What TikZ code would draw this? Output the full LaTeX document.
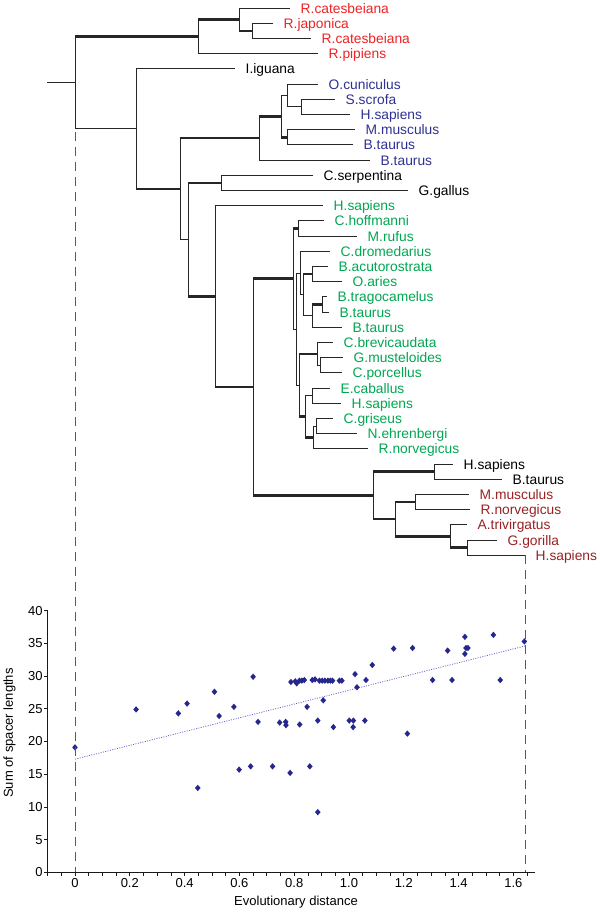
\documentclass[tikz,border=0pt]{standalone}
\usepackage{fontspec}
\setmainfont{Liberation Sans}
\usetikzlibrary{positioning}

\definecolor{frogred}{RGB}{237,34,36}
\definecolor{mamblue}{RGB}{46,49,146}
\definecolor{grngreen}{RGB}{0,166,81}
\definecolor{brnred}{RGB}{153,33,36}
\definecolor{ptblue}{RGB}{38,38,140}
\definecolor{trendblue}{RGB}{100,100,205}

\begin{document}
\begin{tikzpicture}[
  x=1pt, y=-1pt,
  font=\fontsize{13.8}{16}\selectfont,
  br/.style={draw=black!85, line width=0.9pt},
  thk/.style={draw=black!85, line width=2.6pt},
  lab/.style={text=#1, inner sep=0pt, text height=10pt, text depth=0pt},
  lab/.default=black,
  guide/.style={draw=black!65, line width=0.9pt, dash pattern=on 9pt off 6pt},
  axis/.style={draw=black!90, line width=0.8pt},
  ticklab/.style={font=\fontsize{13}{15}\selectfont, inner sep=1pt},
  axlab/.style={font=\fontsize{13}{15}\selectfont, inner sep=0pt},
  pt/.style={fill=ptblue},
  trend/.style={draw=trendblue, line width=0.8pt, dash pattern=on 1pt off 1.4pt},
]
\useasboundingbox (0,0) rectangle (600,914);

% ---------- Leaves ----------
\foreach \i/\x/\name/\col in {
   1/290/R.catesbeiana/frogred,  2/273/R.japonica/frogred,
   3/311/R.catesbeiana/frogred,  4/318/R.pipiens/frogred,
   5/235/I.iguana/black,
   6/318/O.cuniculus/mamblue,    7/335/S.scrofa/mamblue,
   8/350/H.sapiens/mamblue,      9/355/M.musculus/mamblue,
  10/353/B.taurus/mamblue,      11/370/B.taurus/mamblue,
  12/313/C.serpentina/black,    13/408/G.gallus/black,
  14/323/H.sapiens/grngreen,    15/324/C.hoffmanni/grngreen,
  16/357/M.rufus/grngreen,      17/330/C.dromedarius/grngreen,
  18/328/B.acutorostrata/grngreen, 19/342/O.aries/grngreen,
  20/327/B.tragocamelus/grngreen,  21/329/B.taurus/grngreen,
  22/342/B.taurus/grngreen,     23/333/C.brevicaudata/grngreen,
  24/343/G.musteloides/grngreen, 25/342/C.porcellus/grngreen,
  26/330/E.caballus/grngreen,   27/341/H.sapiens/grngreen,
  28/333/C.griseus/grngreen,    29/357/N.ehrenbergi/grngreen,
  30/368/R.norvegicus/grngreen,
  31/453/H.sapiens/black,       32/502/B.taurus/black,
  33/469/M.musculus/brnred,     34/470/R.norvegicus/brnred,
  35/467/A.trivirgatus/brnred,  36/497/G.gorilla/brnred,
  37/525/H.sapiens/brnred}{
  \coordinate (t\i) at (\x,{8+15.2*(\i-1)});
  \node[lab=\col, right=10.5pt of t\i] (l\i) {\name};
}

% ---------- Internal nodes ----------
\coordinate (stub)  at (47,82.65);
\coordinate (root)  at (75,82.65);
\coordinate (frog)  at (198,36.5);
\coordinate (frogA) at (239,19.4);
\coordinate (frogB) at (252,30.8);
\coordinate (amn)   at (136,128.8);
\coordinate (amnA)  at (180,188.85);
\coordinate (mam)   at (259,138.15);
\coordinate (mamA)  at (281,116.3);
\coordinate (mamB)  at (287,95.4);
\coordinate (mamC)  at (301,106.8);
\coordinate (mamD)  at (287,137.2);
\coordinate (sau)   at (188,239.55);
\coordinate (rept)  at (221,182.8);
\coordinate (ctn)   at (215,296.3);
\coordinate (ctnA)  at (253,387.05);
\coordinate (grn)   at (293,278.75);
\coordinate (grnA)  at (298,228.4);
\coordinate (grnB)  at (296,329.1);
\coordinate (grnC)  at (300,273.05);
\coordinate (grnD)  at (303,294.9);
\coordinate (grnE)  at (312,274);
\coordinate (grnF)  at (312,315.8);
\coordinate (grnG)  at (322,304.4);
\coordinate (grnH)  at (299,385.15);
\coordinate (grnI)  at (317,353.8);
\coordinate (grnJ)  at (320,365.2);
\coordinate (grnK)  at (305,416.5);
\coordinate (grnL)  at (312,395.6);
\coordinate (grnM)  at (313,437.4);
\coordinate (grnN)  at (316,426);
\coordinate (brn)   at (373,495.35);
\coordinate (brnA)  at (434,471.6);
\coordinate (brnB)  at (395,519.1);
\coordinate (brnC)  at (415,502);
\coordinate (brnD)  at (450,536.2);
\coordinate (brnE)  at (467,547.6);

% ---------- Branches ----------
\draw[br] (stub) -- (root);
\foreach \p/\c in {root/frog, root/amn, frog/frogA, frog/t4, frogA/t1, frogA/frogB,
    frogB/t2, frogB/t3, amn/t5, amn/amnA, amnA/mam, amnA/sau, mam/mamA, mam/t11,
    mamA/mamB, mamA/mamD, mamB/t6, mamB/mamC, mamC/t7, mamC/t8, mamD/t9, mamD/t10,
    sau/rept, sau/ctn, rept/t12, rept/t13, ctn/t14, ctn/ctnA, ctnA/grn, ctnA/brn,
    grn/grnA, grn/grnB, grnA/t15, grnA/t16, grnB/grnC, grnB/grnH, grnC/t17, grnC/grnD,
    grnD/grnE, grnD/grnF, grnE/t18, grnE/t19, grnF/grnG, grnF/t22, grnG/t20, grnG/t21,
    grnH/grnI, grnH/grnK, grnI/t23, grnI/grnJ, grnJ/t24, grnJ/t25, grnK/grnL, grnK/grnM,
    grnL/t26, grnL/t27, grnM/grnN, grnM/t30, grnN/t28, grnN/t29,
    brn/brnA, brn/brnB, brnA/t31, brnA/t32, brnB/brnC, brnB/brnD,
    brnC/t33, brnC/t34, brnD/t35, brnD/brnE, brnE/t36, brnE/t37}
  \draw[br] (\p) |- (\c);
% well supported branches
\foreach \p/\c in {root/frog, frog/frogA, frogA/frogB, amn/amnA, amnA/mam, mam/mamA,
    mamA/mamD, sau/rept, sau/ctn, ctn/ctnA, ctnA/grn, ctnA/brn, grn/grnA, grnD/grnE,
    grnF/grnG, grnH/grnI, grnH/grnK, grnK/grnM, brn/brnA, brn/brnB, brnB/brnC,
    brnB/brnD, brnD/brnE}
  \draw[thk] (\p |- \c) -- (\c);

% ---------- Scatter plot ----------
\begin{scope}[shift={(75,872.3)}, x=274pt, y=6.54pt]
  \coordinate (p0)  at (0,0);
  \coordinate (p1)  at (1.642,0);
  \coordinate (ax0) at (-0.1,0);
  \coordinate (ax1) at (1.68,0);
  \coordinate (ay1) at (-0.1,40);
  \draw[axis] (ay1) -- (ax0) -- (ax1);
  \foreach \v in {0,5,...,40}
    \draw[axis] (-0.1,\v) -- ++(-3.5pt,0) node[ticklab, left] (yl\v) {\v};
  \foreach \k in {-2,...,33}
    \draw[axis] (\k*0.05,0) -- ++(0,-3.5pt);
  \foreach \v/\t [count=\n] in {0/0, 0.2/0.2, 0.4/0.4, 0.6/0.6, 0.8/0.8,
      1/1.0, 1.2/1.2, 1.4/1.4, 1.6/1.6}
    \node[ticklab, below=5pt] (xl\n) at (\v,0) {\t};

  \draw[trend] (0,17.3) -- (1.642,34.6);

  \foreach \x/\y in {0/19.1, 0.223/24.9, 0.377/24.3, 0.409/25.8, 0.448/12.9,
      0.509/27.6, 0.526/23.9, 0.580/25.3, 0.599/15.7, 0.641/16.2, 0.650/29.9,
      0.668/23.0, 0.721/16.2, 0.747/22.9, 0.769/23.0, 0.770/22.5, 0.785/15.2,
      0.788/29.1, 0.804/29.2, 0.809/28.9, 0.819/29.3, 0.828/29.3, 0.837/29.4,
      0.820/22.6, 0.847/25.3, 0.857/16.2, 0.866/29.4, 0.876/29.5, 0.886/23.2,
      0.886/9.2, 0.892/29.3, 0.902/29.3, 0.906/26.3, 0.912/29.3, 0.923/29.3,
      0.932/29.3, 0.940/29.3, 0.943/22.2, 0.965/29.3, 0.974/29.3, 1.001/23.2,
      1.016/23.2, 1.015/22.2, 1.022/30.3, 1.029/28.3, 1.058/23.2, 1.062/29.4,
      1.085/31.7, 1.163/34.2, 1.213/21.2, 1.232/34.3, 1.305/29.4, 1.360/33.9,
      1.376/29.4, 1.423/36.0, 1.423/33.4, 1.427/34.3, 1.434/34.3, 1.527/36.3,
      1.552/29.4, 1.640/35.3}
    \fill[pt] (\x,\y) +(0,3.2pt) -- +(2.8pt,0) -- +(0,-3.2pt) -- +(-2.8pt,0) -- cycle;
\end{scope}

\node[axlab, rotate=90] (ylab) at (9.5,733) {Sum of spacer lengths};
\node[axlab] (xlab) at (296,902.5) {Evolutionary distance};

% ---------- Guides from tree to plot ----------
\draw[guide, dash phase=12pt] (root |- amn) -- (p0);
\draw[guide] (t37) -- (t37 |- p1);

\end{tikzpicture}
\end{document}
